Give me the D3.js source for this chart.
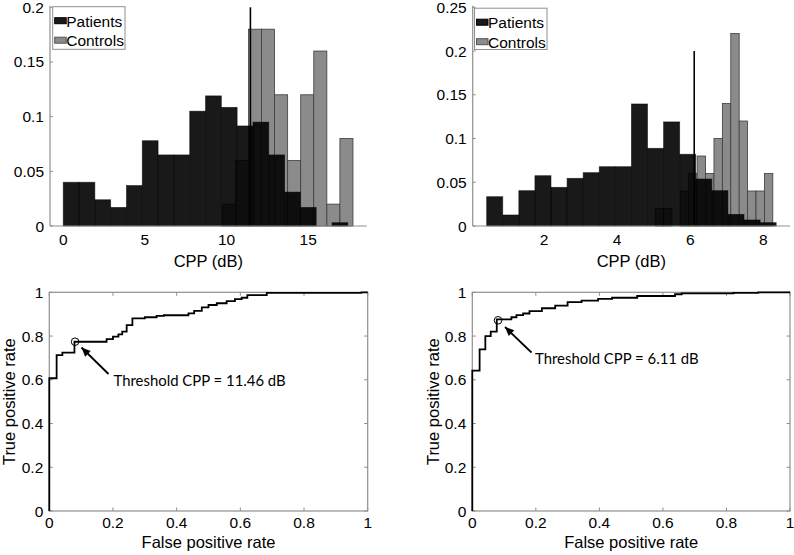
<!DOCTYPE html>
<html><head><meta charset="utf-8">
<script src="https://cdn.jsdelivr.net/npm/d3@7"></script>
<style>
body{margin:0;background:#fff;}
svg{display:block;}
</style></head>
<body>
<svg id="c" width="794" height="555"></svg>
<script>
// ---------- DATA ----------
const seriesNames = ["Patients", "Controls"];
// Left histogram (CPP, dB) – probability per bin
const leftPatientStart = 0, leftPatientWidth = 0.968;
const leftPatients = [0.040,0.040,0.024,0.017,0.037,0.078,0.065,0.065,0.105,0.119,0.1085,0.0915,0.095,0.065,0.031,0.017,0.0,0.003];
const leftControlStart = 9.74, leftControlWidth = 0.80;
const leftControls = [0.020,0.060,0.180,0.180,0.120,0.060,0.120,0.160,0.020,0.080];
const leftThreshold = 11.46;
const leftXTicks = [0,5,10,15];
const leftYTicks = [0,0.05,0.1,0.15,0.2];

// Right histogram
const rightPatientStart = 0.432, rightPatientWidth = 0.44;
const rightPatients = [0.0335,0.0126,0.0404,0.0575,0.0442,0.0545,0.061,0.0678,0.0678,0.1395,0.0888,0.119,0.082,0.0537,0.0404,0.0133,0.0069,0.0038];
const rightControlStart = 5.04, rightControlWidth = 0.23;
const rightControls = [0.02,0.02,0,0.04,0.06,0.08,0.06,0.10,0.14,0.22,0.12,0.04,0.04,0.06];
const rightThreshold = 6.11;
const rightXTicks = [2,4,6,8];
const rightYTicks = [0,0.05,0.1,0.15,0.2,0.25];
const thresholdLineTop = 0.2;

// ROC curves [fpr, tpr]
const rocLeft = [[0,0],[0,0.607],[0.023,0.713],[0.041,0.724],[0.079,0.774],[0.18,0.786],[0.20,0.797],[0.217,0.808],[0.229,0.82],[0.243,0.85],[0.261,0.881],[0.30,0.886],[0.337,0.892],[0.36,0.895],[0.437,0.904],[0.455,0.915],[0.479,0.931],[0.50,0.942],[0.526,0.95],[0.557,0.96],[0.583,0.969],[0.604,0.975],[0.622,0.987],[0.683,0.997],[0.98,1.0],[1.0,1.0]];
const rocRight = [[0,0],[0,0.642],[0.023,0.739],[0.041,0.80],[0.058,0.82],[0.077,0.876],[0.123,0.886],[0.139,0.896],[0.16,0.903],[0.18,0.914],[0.219,0.927],[0.261,0.939],[0.30,0.955],[0.344,0.962],[0.396,0.970],[0.44,0.975],[0.519,0.983],[0.638,0.991],[0.659,0.995],[0.822,0.997],[0.90,1.0],[1.0,1.0]];
const rocLeftPoint = [0.081, 0.774];
const rocRightPoint = [0.081, 0.872];
const rocLeftLabel = "Threshold CPP = 11.46 dB";
const rocRightLabel = "Threshold CPP = 6.11 dB";
const rocTicks = [0,0.2,0.4,0.6,0.8,1];

// ---------- DRAW ----------
const svg = d3.select("#c");
const AX = "#8f8f8f";
const FONT = "'Liberation Sans', Arial, sans-serif";
const fmt = d => String(d);

function hist(o){
  const g = svg.append("g");
  const x = d3.scaleLinear().domain(o.xd).range(o.xr);
  const y = d3.scaleLinear().domain(o.yd).range(o.yr);
  const ctl = o.controls.map((v,i)=>({x0:o.cs+i*o.cw, x1:o.cs+(i+1)*o.cw, v}));
  const pat = o.patients.map((v,i)=>({x0:o.ps+i*o.pw, x1:o.ps+(i+1)*o.pw, v}));
  g.selectAll("rect.c").data(ctl.filter(d=>d.v>0)).join("rect")
    .attr("x",d=>x(d.x0)).attr("width",d=>x(d.x1)-x(d.x0))
    .attr("y",d=>y(d.v)).attr("height",d=>y(0)-y(d.v))
    .attr("fill","#8b8b8b").attr("stroke","#3c3c3c").attr("stroke-width",0.8);
  g.selectAll("rect.p").data(pat.filter(d=>d.v>0)).join("rect")
    .attr("x",d=>x(d.x0)).attr("width",d=>x(d.x1)-x(d.x0))
    .attr("y",d=>y(d.v)).attr("height",d=>y(0)-y(d.v))
    .attr("fill","#000").attr("fill-opacity",0.9).attr("stroke","#000").attr("stroke-opacity",0.6).attr("stroke-width",0.8);
  // threshold
  g.append("line").attr("x1",x(o.th)).attr("x2",x(o.th)).attr("y1",y(0)).attr("y2",y(thresholdLineTop))
    .attr("stroke","#000").attr("stroke-width",1.6);
  // axes
  g.append("line").attr("x1",o.xr[0]).attr("x2",o.xr[0]).attr("y1",o.yr[0]).attr("y2",o.yr[1]-1.5).attr("stroke",AX).attr("stroke-width",1.2);
  g.append("line").attr("x1",o.xr[0]).attr("x2",o.xr[1]).attr("y1",o.yr[0]).attr("y2",o.yr[0]).attr("stroke",AX).attr("stroke-width",1.2);
  g.selectAll("line.yt").data(o.yt).join("line").attr("x1",o.xr[0]).attr("x2",o.xr[0]+3).attr("y1",d=>y(d)).attr("y2",d=>y(d)).attr("stroke",AX);
  g.selectAll("text.yl").data(o.yt).join("text").attr("x",o.xr[0]-6).attr("y",d=>y(d)+5.5)
    .attr("text-anchor","end").attr("font-family",FONT).attr("font-size",15.5).text(fmt);
  g.selectAll("text.xl").data(o.xt).join("text").attr("x",d=>x(d)).attr("y",o.yr[0]+19)
    .attr("text-anchor","middle").attr("font-family",FONT).attr("font-size",15.5).text(fmt);
  g.append("text").attr("x",(o.xr[0]+o.xr[1])/2 + o.lblShift).attr("y",266.5).attr("text-anchor","middle")
    .attr("font-family",FONT).attr("font-size",16.5).text("CPP (dB)");
  // legend
  const L = o.leg;
  g.append("rect").attr("x",L[0]).attr("y",L[1]).attr("width",L[2]).attr("height",L[3]).attr("fill","#fff").attr("stroke",AX).attr("stroke-width",1);
  const cols = [{f:"#1a1a1a",s:"#000"},{f:"#8b8b8b",s:"#555"}];
  seriesNames.forEach((n,i)=>{
    g.append("rect").attr("x",L[0]+2).attr("y",L[1]+11+i*19.5).attr("width",11.5).attr("height",6)
      .attr("fill",cols[i].f).attr("stroke",cols[i].s).attr("stroke-width",1);
    g.append("text").attr("x",L[0]+13.5).attr("y",L[1]+20+i*19.5).attr("font-family",FONT).attr("font-size",15.5).text(n);
  });
}

hist({xd:[-0.81,18.58], xr:[50,366.7], yd:[0,0.2], yr:[226,7.3],
  patients:leftPatients, ps:leftPatientStart, pw:leftPatientWidth,
  controls:leftControls, cs:leftControlStart, cw:leftControlWidth,
  th:leftThreshold, xt:leftXTicks, yt:leftYTicks, leg:[52.7,6.7,72.3,42.6], lblShift:0});
hist({xd:[0.05,8.73], xr:[472.7,790], yd:[0,0.25], yr:[226,7.3],
  patients:rightPatients, ps:rightPatientStart, pw:rightPatientWidth,
  controls:rightControls, cs:rightControlStart, cw:rightControlWidth,
  th:rightThreshold, xt:rightXTicks, yt:rightYTicks, leg:[474.5,8.2,72.5,41.3], lblShift:0});

function roc(o){
  const g = svg.append("g");
  const x = d3.scaleLinear().domain([0,1]).range(o.xr);
  const y = d3.scaleLinear().domain([0,1]).range(o.yr);
  g.append("rect").attr("x",o.xr[0]).attr("y",o.yr[1]).attr("width",o.xr[1]-o.xr[0]).attr("height",o.yr[0]-o.yr[1])
    .attr("fill","none").attr("stroke",AX).attr("stroke-width",1.2);
  rocTicks.forEach(t=>{
    g.append("line").attr("x1",x(t)).attr("x2",x(t)).attr("y1",o.yr[0]).attr("y2",o.yr[0]-3.5).attr("stroke",AX);
    g.append("line").attr("x1",x(t)).attr("x2",x(t)).attr("y1",o.yr[1]).attr("y2",o.yr[1]+3.5).attr("stroke",AX);
    g.append("line").attr("y1",y(t)).attr("y2",y(t)).attr("x1",o.xr[0]).attr("x2",o.xr[0]+3.5).attr("stroke",AX);
    g.append("line").attr("y1",y(t)).attr("y2",y(t)).attr("x1",o.xr[1]).attr("x2",o.xr[1]-3.5).attr("stroke",AX);
  });
  g.selectAll("text.xl").data(rocTicks).join("text").attr("x",d=>x(d)).attr("y",o.yr[0]+16.5)
    .attr("text-anchor","middle").attr("font-family",FONT).attr("font-size",15.5).text(fmt);
  g.selectAll("text.yl").data(rocTicks).join("text").attr("x",o.xr[0]-6).attr("y",d=>y(d)+5.5)
    .attr("text-anchor","end").attr("font-family",FONT).attr("font-size",15.5).text(fmt);
  g.append("text").attr("x",(o.xr[0]+o.xr[1])/2).attr("y",547.5).attr("text-anchor","middle")
    .attr("font-family",FONT).attr("font-size",16.5).text("False positive rate");
  g.append("text").attr("transform",`translate(${o.ylx},${(o.yr[0]+o.yr[1])/2}) rotate(-90)`).attr("text-anchor","middle")
    .attr("font-family",FONT).attr("font-size",16.5).text("True positive rate");
  const line = d3.line().x(d=>x(d[0])).y(d=>y(d[1])).curve(d3.curveStepAfter);
  g.append("path").attr("d",line(o.data)).attr("fill","none").attr("stroke","#000").attr("stroke-width",1.8).attr("stroke-linejoin","miter");
  g.append("circle").attr("cx",x(o.pt[0])).attr("cy",y(o.pt[1])).attr("r",3.8).attr("fill","none").attr("stroke","#000").attr("stroke-width",1);
  // arrow
  const a0 = o.arrow[0], a1 = o.arrow[1];
  const ang = Math.atan2(a1[1]-a0[1], a1[0]-a0[0]);
  g.append("line").attr("x1",a0[0]).attr("y1",a0[1]).attr("x2",a1[0]).attr("y2",a1[1]).attr("stroke","#000").attr("stroke-width",1.8);
  const hl = 9, hw = 4;
  const p1 = [a1[0]-hl*Math.cos(ang)+hw*Math.sin(ang), a1[1]-hl*Math.sin(ang)-hw*Math.cos(ang)];
  const p2 = [a1[0]-hl*Math.cos(ang)-hw*Math.sin(ang), a1[1]-hl*Math.sin(ang)+hw*Math.cos(ang)];
  g.append("path").attr("d",`M${a1[0]},${a1[1]}L${p1[0]},${p1[1]}L${p2[0]},${p2[1]}Z`).attr("fill","#000");
  g.append("text").attr("x",o.tx[0]).attr("y",o.tx[1]).attr("font-family","Lato, 'Open Sans', sans-serif").attr("font-size",14.9).text(o.label);
}
roc({xr:[49.3,367.7], yr:[511,292.3], data:rocLeft, pt:rocLeftPoint, label:rocLeftLabel,
  arrow:[[108.5,374],[81.5,347.5]], tx:[113.5,385.5], ylx:14.5});
roc({xr:[472.3,790], yr:[511,292.3], data:rocRight, pt:rocRightPoint, label:rocRightLabel,
  arrow:[[531.5,352.5],[505,327]], tx:[535,364], ylx:438.5});
</script>
</body></html>
